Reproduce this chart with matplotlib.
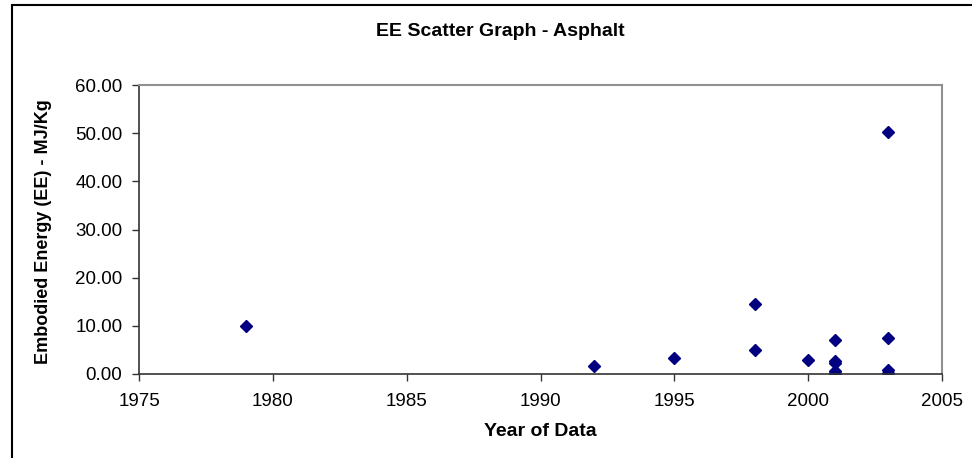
import matplotlib.pyplot as plt
from matplotlib.patches import Rectangle

# Data
years = [1979, 1992, 1995, 1998, 1998, 2000, 2001, 2001, 2001, 2001, 2001, 2003, 2003, 2003, 2003]
ee = [10.0, 1.7, 3.3, 14.6, 5.0, 2.9, 7.1, 2.6, 2.3, 0.7, 0.3, 50.2, 7.5, 0.8, 0.3]
x_ticks = [1975, 1980, 1985, 1990, 1995, 2000, 2005]
y_ticks = [0, 10, 20, 30, 40, 50, 60]

plt.rcParams['font.family'] = ['Liberation Sans', 'DejaVu Sans']

fig = plt.figure(figsize=(9.72, 4.58), dpi=100)
W, H = 972, 458

# outer chart border
fig.patches.append(Rectangle((12 / W, -0.05), 1.2, 1 - 5 / H + 0.05,
                             transform=fig.transFigure, fill=False,
                             edgecolor='black', linewidth=1.5))

ax = fig.add_axes([139 / W, 1 - 374 / H, 803 / W, 289 / H])
ax.plot(years, ee, linestyle='none', marker='D', markersize=6,
        color='#000080', markeredgecolor='#000080')

ax.set_xlim(1975, 2005)
ax.set_ylim(0, 60)
ax.set_xticks(x_ticks)
ax.set_yticks(y_ticks)
ax.set_yticklabels([f"{v:.2f}" for v in y_ticks])
ax.tick_params(axis='both', labelsize=13.5, direction='out', length=5,
               width=1, color='#333333')
ax.tick_params(axis='x', pad=9)
ax.tick_params(axis='y', pad=7)

ax.spines['top'].set_color('#909090')
ax.spines['right'].set_color('#909090')
ax.spines['top'].set_linewidth(1.5)
ax.spines['right'].set_linewidth(1.5)
ax.spines['left'].set_color('#333333')
ax.spines['bottom'].set_color('#333333')
ax.spines['left'].set_linewidth(1.2)
ax.spines['bottom'].set_linewidth(1.2)

fig.text(500 / W, 1 - 32 / H, "EE Scatter Graph - Asphalt", ha='center', va='center',
         fontsize=14, fontweight='bold')
fig.text(540 / W, 1 - 431 / H, "Year of Data", ha='center', va='center',
         fontsize=14, fontweight='bold')
fig.text(44 / W, 1 - 232 / H, "Embodied Energy (EE) - MJ/Kg", ha='center', va='center',
         rotation=90, fontsize=13, fontweight='bold')

fig.savefig("out.png", dpi=100)
